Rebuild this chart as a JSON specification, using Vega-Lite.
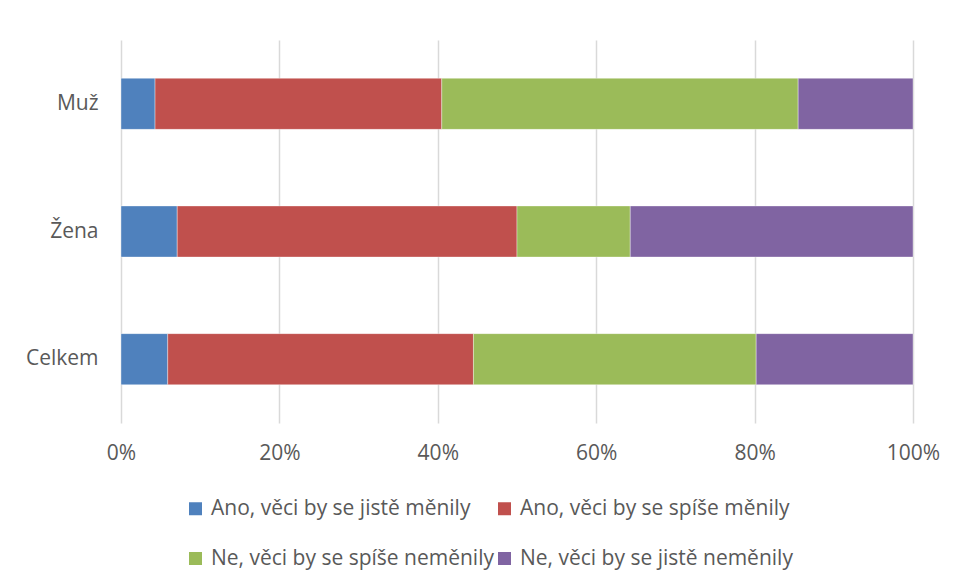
{
  "$schema": "https://vega.github.io/schema/vega-lite/v6.json",
  "width": 792,
  "height": 383,
  "autosize": {"type": "none"},
  "padding": {"left": 121, "top": 40, "right": 44, "bottom": 157},
  "background": "white",
  "config": {
    "view": {"stroke": null},
    "font": "Open Sans",
    "axis": {"labelFont": "Open Sans", "labelColor": "#595959", "labelFontSize": 21},
    "legend": {"labelFont": "Open Sans"}
  },
  "data": {
    "values": [
      {"group": "Muž", "answer": "Ano, věci by se jistě měnily", "k": 1, "value": 4.3},
      {"group": "Muž", "answer": "Ano, věci by se spíše měnily", "k": 2, "value": 36.2},
      {"group": "Muž", "answer": "Ne, věci by se spíše neměnily", "k": 3, "value": 45.0},
      {"group": "Muž", "answer": "Ne, věci by se jistě neměnily", "k": 4, "value": 14.5},
      {"group": "Žena", "answer": "Ano, věci by se jistě měnily", "k": 1, "value": 7.1},
      {"group": "Žena", "answer": "Ano, věci by se spíše měnily", "k": 2, "value": 42.9},
      {"group": "Žena", "answer": "Ne, věci by se spíše neměnily", "k": 3, "value": 14.3},
      {"group": "Žena", "answer": "Ne, věci by se jistě neměnily", "k": 4, "value": 35.7},
      {"group": "Celkem", "answer": "Ano, věci by se jistě měnily", "k": 1, "value": 5.9},
      {"group": "Celkem", "answer": "Ano, věci by se spíše měnily", "k": 2, "value": 38.6},
      {"group": "Celkem", "answer": "Ne, věci by se spíše neměnily", "k": 3, "value": 35.7},
      {"group": "Celkem", "answer": "Ne, věci by se jistě neměnily", "k": 4, "value": 19.8}
    ]
  },
  "mark": {"type": "bar", "stroke": "white", "strokeWidth": 0.6, "strokeOpacity": 0.6},
  "encoding": {
    "y": {
      "field": "group",
      "type": "nominal",
      "sort": ["Muž", "Žena", "Celkem"],
      "scale": {"paddingInner": 0.6, "paddingOuter": 0.3},
      "axis": {"title": null, "ticks": false, "domain": false, "labelPadding": 23, "grid": false}
    },
    "x": {
      "field": "value",
      "type": "quantitative",
      "stack": "normalize",
      "scale": {"domain": [0, 1]},
      "axis": {
        "title": null,
        "format": ".0%",
        "values": [0, 0.2, 0.4, 0.6, 0.8, 1],
        "ticks": false,
        "domain": false,
        "labelFlush": false,
        "labelPadding": 19,
        "grid": true,
        "gridColor": "#d9d9d9",
        "gridWidth": 1.5
      }
    },
    "order": {"field": "k", "type": "quantitative"},
    "color": {
      "field": "answer",
      "type": "nominal",
      "scale": {
        "domain": ["Ano, věci by se jistě měnily", "Ano, věci by se spíše měnily", "Ne, věci by se spíše neměnily", "Ne, věci by se jistě neměnily"],
        "range": ["#4f81bd", "#c0504d", "#9bbb59", "#8064a2"]
      },
      "legend": {
        "title": null,
        "orient": "none",
        "legendX": 64,
        "legendY": 458,
        "direction": "horizontal",
        "columns": 2,
        "symbolType": "square",
        "symbolSize": 169,
        "symbolStrokeWidth": 0,
        "labelFontSize": 21,
        "labelColor": "#595959",
        "labelOffset": 5,
        "labelLimit": 400,
        "rowPadding": 28,
        "columnPadding": 0
      }
    }
  }
}
